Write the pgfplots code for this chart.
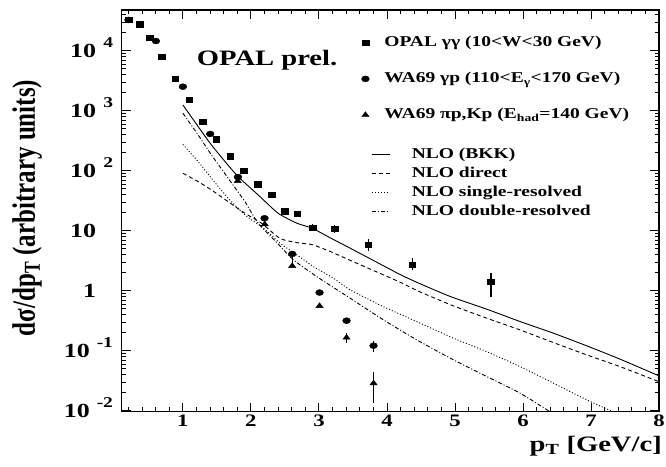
\documentclass[border=0pt]{standalone}
\usepackage{pgfplots}
\pgfplotsset{compat=1.18}
\usepackage{fontspec}
\setmainfont[FakeStretch=1.3]{Liberation Serif}
\newfontfamily\ylabfont{Liberation Serif}
\newcommand\ex[1]{\hspace{7pt}\raisebox{10pt}{\fontsize{15}{15}\selectfont #1}}

\begin{document}
\begin{tikzpicture}
% axis, ticks and NLO curves
\begin{axis}[width=537.3pt, height=401.7pt, scale only axis,
  xmin=0.1, xmax=8, ymode=log, ymin=0.0096, ymax=47700,
  axis line style={line width=1.1pt},
  tick align=inside, tick pos=both,
  xticklabel pos=left, yticklabel pos=left,
  xtick={1,2,3,4,5,6,7,8},
  minor xtick={0.2,0.4,0.6,0.8,1.2,1.4,1.6,1.8,2.2,2.4,2.6,2.8,3.2,3.4,3.6,3.8,4.2,4.4,4.6,4.8,5.2,5.4,5.6,5.8,6.2,6.4,6.6,6.8,7.2,7.4,7.6,7.8},
  ytick={0.01,0.1,1,10,100,1000,10000},
  minor ytick={0.02,0.03,0.04,0.05,0.06,0.07,0.08,0.09,0.2,0.3,0.4,0.5,0.6,0.7,0.8,0.9,2,3,4,5,6,7,8,9,20,30,40,50,60,70,80,90,200,300,400,500,600,700,800,900,2000,3000,4000,5000,6000,7000,8000,9000,20000,30000,40000},
  yticklabels={10\ex{-2},10\ex{-1},1\phantom{\ex{4}},10\phantom{\ex{4}},10\ex{2},10\ex{3},10\ex{4}},
  /pgf/number format/assume math mode=true,
  major tick length=9pt, minor tick length=4.5pt,
  every tick/.style={black, line width=0.9pt},
  xticklabel style={font=\fontsize{17.5}{17.5}\selectfont\bfseries},
  yticklabel style={font=\fontsize{20}{20}\selectfont\bfseries, anchor=base east, inner xsep=0pt, xshift=-8.5pt, yshift=-6.6pt},
  xlabel={p\textsubscript{T} [GeV/c]},
  xlabel style={at={(axis description cs:1,0)}, anchor=base east, yshift=-40pt, xshift=3pt, inner sep=0pt, font=\fontsize{22}{22}\selectfont\bfseries},
  ylabel={dσ/dp\textsubscript{T} (arbitrary units)},
  ylabel style={at={(axis description cs:-0.176,0.507)}, anchor=center, yscale=1.3, inner sep=0pt, font=\ylabfont\fontsize{25}{25}\selectfont\bfseries},
  legend image code/.code={\draw[#1] (0pt,0pt) -- (18pt,0pt);},
  legend cell align=left,
  legend style={at={(0.4653,0.6607)}, anchor=north west, draw=none, fill=none,
    inner sep=0pt, row sep=3pt, font=\fontsize{15}{15}\selectfont\bfseries,
    nodes={inner sep=0pt, text height=12pt, text depth=4pt}},
]
\coordinate (sw) at (rel axis cs:0,0);
\coordinate (ne) at (rel axis cs:1,1);
\node[anchor=base west, inner sep=0pt, font=\fontsize{22}{22}\selectfont\bfseries] at (rel axis cs:0.1396,0.863) {OPAL prel.};

\addplot[black, line width=0.9pt, smooth, tension=0.35] coordinates {
  (1.0,1245) (1.156,700) (1.42,268) (1.788,84.8) (2.107,39.4) (2.40,19.5)
  (2.676,13.3) (2.90,11.0) (3.166,7.6) (3.46,5.1) (3.754,3.4) (4.196,1.85)
  (4.49,1.30) (4.93,0.80) (5.47,0.49) (5.96,0.305) (6.45,0.195) (6.94,0.12)
  (7.43,0.072) (8.0,0.038)};
\addlegendentry{\hspace*{21pt}NLO (BKK)}
\addplot[black, line width=0.9pt, smooth, tension=0.35, dash pattern=on 4pt off 3pt] coordinates {
  (1.0,90.6) (1.225,65.6) (1.42,47.7) (1.666,30.4) (1.912,19.5) (2.156,13.3)
  (2.43,7.4) (2.70,6.25) (2.90,5.85) (3.166,4.5) (3.46,3.2) (3.73,2.35)
  (4.196,1.38) (4.49,0.95) (4.98,0.556) (5.47,0.347) (5.96,0.221)
  (6.45,0.136) (6.94,0.0848) (7.43,0.054) (8.0,0.0304)};
\addlegendentry{\hspace*{21pt}NLO direct}
\addplot[black, line width=0.9pt, smooth, tension=0.35, dash pattern=on 1pt off 2pt] coordinates {
  (1.0,275) (1.225,141) (1.42,74.7) (1.666,34.7) (1.912,18.3) (2.185,11)
  (2.43,6.17) (2.676,3.94) (2.92,2.51) (3.215,1.61) (3.46,1.03)
  (3.95,0.54) (4.44,0.304) (4.98,0.161) (5.47,0.096) (5.96,0.054) (6.45,0.0286)
  (6.94,0.0151) (7.35,0.0093)};
\addlegendentry{\hspace*{21pt}NLO single-resolved}
\addplot[black, line width=0.9pt, smooth, tension=0.35, dash pattern=on 4pt off 2pt on 1pt off 2pt] coordinates {
  (1.0,906) (1.225,393) (1.42,183) (1.666,74.7) (1.912,30.4) (2.107,13.3)
  (2.4,6.0) (2.626,3.25) (2.97,1.71) (3.46,0.747) (3.95,0.325) (4.44,0.151)
  (4.98,0.07) (5.47,0.0369) (5.96,0.0195) (6.45,0.0088)};
\addlegendentry{\hspace*{21pt}NLO double-resolved}
\end{axis}

% data points
\begin{axis}[width=537.3pt, height=401.7pt, scale only axis,
  xmin=0.1, xmax=8, ymode=log, ymin=0.0096, ymax=47700, hide axis,
  legend cell align=left,
  legend style={at={(0.446,0.9385)}, anchor=north west, draw=none, fill=none,
    inner sep=0pt, row sep=20pt, font=\fontsize{15}{15}\selectfont\bfseries,
    nodes={inner sep=0pt, text height=12pt, text depth=4pt}},
]
\addplot[black, only marks, mark=square*, mark size=2.6pt, mark options={xscale=1.3},
  error bars/.cd, y dir=both, y explicit, error mark=none,
  error bar style={line width=1.1pt}] coordinates {
  (0.200,32600) (0.362,27700) (0.509,16500) (0.691,7940) (0.887,3380)
  (1.093,1510) (1.294,656) (1.490,334) (1.696,174) (1.891,101) (2.100,59.6)
  (2.300,39.8) +- (0,3)
  (2.500,21.1) +- (0,2.5)
  (2.680,19.1) +- (0,2.5)
  (2.906,11.3) +- (0,1.6)
  (3.230,10.8) +- (0,1.5)
  (3.725,5.78) += (0,1.5) -= (0,1.2)
  (4.370,2.75) += (0,0.72) -= (0,0.57)
  (5.530,1.41) += (0,0.59) -= (0,0.62)};
\addlegendentry{\hspace*{15pt}OPAL γγ (10<W<30 GeV)}
\addplot[black, only marks, mark=*, mark size=3pt, mark options={xscale=1.3},
  error bars/.cd, y dir=both, y explicit, error mark=none,
  error bar style={line width=1.1pt}] coordinates {
  (0.200,32600) (0.603,14500) (1.000,2510) (1.401,409) (1.809,78.5) (2.200,16.1)
  (2.607,4.09) += (0,0.5) -= (0,1.3)
  (3.009,0.93)
  (3.406,0.316) +- (0,0.04)
  (3.803,0.121) +- (0,0.025)};
\addlegendentry{\hspace*{15pt}WA69 γp (110<E\textsubscript{γ}<170 GeV)}
\addplot[black, only marks, mark=triangle*, mark size=3.2pt, mark options={xscale=1.3},
  error bars/.cd, y dir=both, y explicit, error mark=none,
  error bar style={line width=1.1pt}] coordinates {
  (1.806,67.3) (2.203,12.8) (2.607,2.58) (3.009,0.556)
  (3.406,0.165) +- (0,0.03)
  (3.803,0.0286) += (0,0.016) -= (0,0.0152)};
\addlegendentry{\hspace*{15pt}WA69 πp,Kp (E\textsubscript{had}=140 GeV)}
\end{axis}

\pgfresetboundingbox
\path ([shift={(-121.7pt,-54.3pt)}]sw) rectangle ([shift={(7pt,10pt)}]ne);
\end{tikzpicture}
\end{document}
